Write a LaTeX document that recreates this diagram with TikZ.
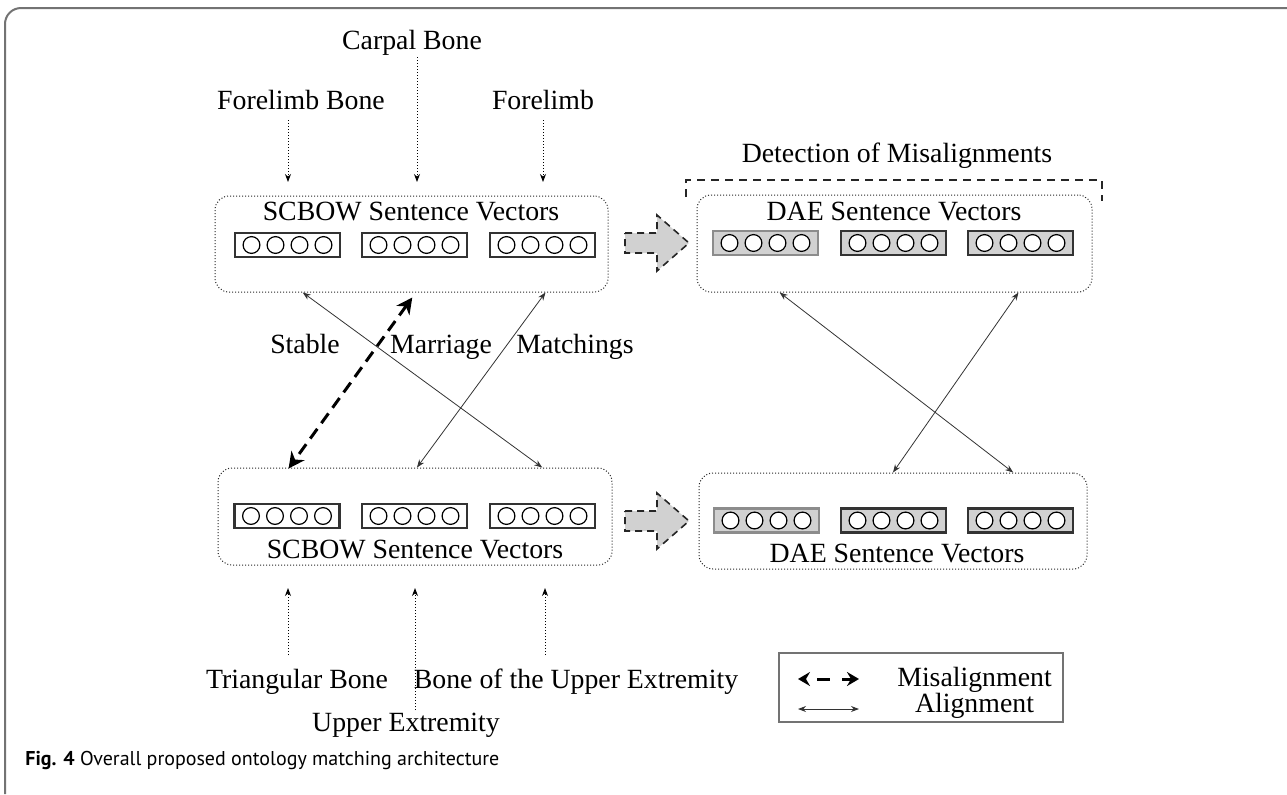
\documentclass[tikz,border=0pt]{standalone}
\usepackage{fontspec}
\setmainfont{Liberation Serif}
\newfontfamily\capfont{PT Sans}
\usetikzlibrary{arrows.meta,calc}
\begin{document}
\begin{tikzpicture}[x=0.5pt,y=-0.5pt,
  font=\fontsize{13.9}{16}\selectfont,
  mainbox/.style={draw=black!85, densely dotted, line width=0.5pt, rounded corners=7pt, inner sep=0pt},
  vecbox/.style={line width=1.1pt, minimum width=52.5pt, minimum height=12pt, inner sep=0pt},
  vcirc/.style={draw=black, line width=0.6pt, fill=white},
  pics/vec/.style n args={2}{code={
     \node[vecbox, draw=#2, fill=#1] (-box) at (0,0) {};
     \foreach \i in {-36,-12,12,36} \draw[vcirc] (\i,0) circle[radius=4.2pt];}},
  ttl/.style={anchor=base, inner sep=0pt},
  lab/.style={anchor=base, inner sep=0pt},
  labarrow/.style={densely dotted, line width=0.5pt, -{Stealth[length=4pt,width=3pt]}},
  align/.style={black!80, line width=0.4pt, {Stealth[length=4pt,width=3pt]}-{Stealth[length=4pt,width=3pt]}},
  misalign/.style={line width=1.5pt, dash pattern=on 6pt off 3.5pt, {Stealth[length=8pt,width=8pt,inset=2.5pt]}-{Stealth[length=8pt,width=8pt,inset=2.5pt]}},
  grayarrow/.style={fill=black!18, draw=black!85, line width=0.8pt, dash pattern=on 3.5pt off 2.5pt},
]
\useasboundingbox (0,0) rectangle (1287,794);
% outer frame
\draw[black!55, line width=1pt, rounded corners=8pt] (5,794) -- (5,8) -- (1287,8);

% main boxes
\node[mainbox, minimum width=196.5pt, minimum height=48pt] (tl) at (411.5,244) {};
\node[mainbox, minimum width=197pt, minimum height=48.5pt] (bl) at (415,516.5) {};
\node[mainbox, minimum width=197.5pt, minimum height=48.5pt] (td) at (894.5,243.5) {};
\node[mainbox, minimum width=194pt, minimum height=48pt] (bd) at (893,521) {};

% titles
\node[ttl] (tlt) at (411,220) {SCBOW Sentence Vectors};
\node[ttl] (blt) at (415,558) {SCBOW Sentence Vectors};
\node[ttl] (tdt) at (894,220) {DAE Sentence Vectors};
\node[ttl] (bdt) at (897,562) {DAE Sentence Vectors};

% vector boxes
\pic (tl1) at (287.5,245) {vec={white}{black!80}};
\pic (tl2) at (414.5,245) {vec={white}{black!80}};
\pic (tl3) at (542.5,245) {vec={white}{black!80}};
\pic (bl1) at (287,516) {vec={white}{black!80}};
\pic (bl2) at (414.5,516) {vec={white}{black!80}};
\pic (bl3) at (542.5,516) {vec={white}{black!80}};
\pic (td1) at (765.5,243) {vec={black!18}{black!45}};
\pic (td2) at (893.5,243) {vec={black!18}{black!80}};
\pic (td3) at (1020.5,243) {vec={black!18}{black!80}};
\pic (bd1) at (766.5,520.5) {vec={black!18}{black!45}};
\pic (bd2) at (893.5,520.5) {vec={black!18}{black!80}};
\pic (bd3) at (1020.5,520.5) {vec={black!18}{black!80}};

% gray block arrows
\draw[grayarrow] (625,233) -- (657,233) -- (657,215) -- (689,243) -- (657,271) -- (657,253) -- (625,253) -- cycle;
\draw[grayarrow] (625,511) -- (657,511) -- (657,493) -- (689,521) -- (657,549) -- (657,531) -- (625,531) -- cycle;

% detection bracket
\draw[black!85, line width=0.6pt, dash pattern=on 4pt off 3pt] (686,197) -- (686,180) -- (1102,180) -- (1102,201);
\node[lab] (det) at (897,162) {Detection of Misalignments};

% top labels
\node[lab] (cb) at (412,49) {Carpal Bone};
\node[lab] (fb) at (301,109) {Forelimb Bone};
\node[lab] (fl) at (543,109) {Forelimb};
\coordinate (cbs) at (417,57);  \coordinate (cbe) at (417,182);
\coordinate (fbs) at (288,120); \coordinate (fbe) at (288,182);
\coordinate (fls) at (543,120); \coordinate (fle) at (543,182);
\draw[labarrow] (cbs) -- (cbe);
\draw[labarrow] (fbs) -- (fbe);
\draw[labarrow] (fls) -- (fle);

% bottom labels
\node[lab] (tb) at (297,688) {Triangular Bone};
\node[lab] (bu) at (576,688) {Bone of the Upper Extremity};
\node[lab] (ue) at (406,731) {Upper Extremity};
\coordinate (tbs) at (288,655); \coordinate (tbe) at (288,588);
\coordinate (bus) at (545,655); \coordinate (bue) at (545,588);
\coordinate (ues) at (415,710); \coordinate (uee) at (415,588);
\draw[labarrow] (tbs) -- (tbe);
\draw[labarrow] (bus) -- (bue);
\draw[labarrow] (ues) -- (uee);

% stable marriage matchings
\node[lab] (st) at (305,353) {Stable};
\node[lab] (ma) at (441,353) {Marriage};
\node[lab] (mt) at (575,353) {Matchings};

% alignment connectors
\draw[align] ($(tl.south west)!0.224!(tl.south east)$) -- ($(bl.north west)!0.822!(bl.north east)$);
\draw[align] ($(tl.south west)!0.840!(tl.south east)$) -- ($(bl.north west)!0.505!(bl.north east)$);
\draw[align] ($(td.south west)!0.210!(td.south east)$) -- ($(bd.north west)!0.809!(bd.north east)$);
\draw[align] ($(td.south west)!0.813!(td.south east)$) -- ($(bd.north west)!0.500!(bd.north east)$);
\draw[misalign] ($(tl.south west)!0.502!(tl.south east)+(0,5)$) -- ($(bl.north west)!0.180!(bl.north east)+(0,1)$);

% legend
\node[draw=black!55, line width=0.6pt, minimum width=142pt, minimum height=34.5pt, inner sep=0pt] (leg) at (921,687.5) {};
\coordinate (la1) at (798,679); \coordinate (la2) at (859,679);
\coordinate (lb1) at (798,709); \coordinate (lb2) at (859,709);
\draw[line width=1.5pt, dash pattern=on 6.5pt off 6pt, dash phase=6.5pt, {Stealth[length=6pt,width=7pt,inset=2pt]}-{Stealth[length=6pt,width=7pt,inset=2pt]}] (la1) -- (la2);
\draw[align] (lb1) -- (lb2);
\node[lab] (lm) at (974.5,686) {Misalignment};
\node[lab] (la) at (974.5,712) {Alignment};

% caption
\node[anchor=base west, inner sep=0pt, font=\capfont\fontsize{10}{12}\selectfont] (cap) at (25,765) {\textbf{Fig. 4} Overall proposed ontology matching architecture};
\end{tikzpicture}
\end{document}
